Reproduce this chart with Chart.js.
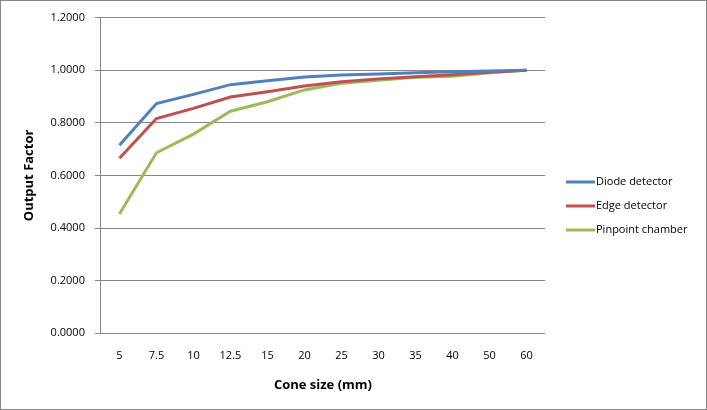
<!DOCTYPE html>
<html>
<head>
<meta charset="utf-8">
<script src="https://cdn.jsdelivr.net/npm/chart.js@4/dist/chart.umd.min.js"></script>
<style>
    html, body { margin: 0; padding: 0; background: #fff; }
    #wrap { width: 707px; height: 410px; box-sizing: border-box; border: 1px solid #868686; position: relative; }
</style>
</head>
<body>
<div id="wrap"><canvas id="outputChart"></canvas></div>
<script>
// Chart data
const coneSizes = ['5', '7.5', '10', '12.5', '15', '20', '25', '30', '35', '40', '50', '60'];
const diodeDetector = [0.715, 0.873, 0.908, 0.945, 0.960, 0.974, 0.982, 0.986, 0.990, 0.994, 0.997, 1.000];
const edgeDetector = [0.665, 0.816, 0.855, 0.898, 0.918, 0.940, 0.956, 0.967, 0.975, 0.983, 0.992, 1.000];
const pinpointChamber = [0.453, 0.686, 0.757, 0.844, 0.880, 0.925, 0.950, 0.962, 0.973, 0.977, 0.990, 1.000];

const gridGray = '#868686';
const fontFamily = "'Open Sans', 'Liberation Sans', sans-serif";

// Excel-style legend on the right, drawn after the chart
const sideLegend = {
    id: 'sideLegend',
    afterDraw(chart) {
        const ctx = chart.ctx;
        const x = chart.chartArea.right + 21;
        const rowGap = 24;
        const y0 = 181;
        ctx.save();
        ctx.font = '11px ' + fontFamily;
        ctx.textBaseline = 'middle';
        ctx.fillStyle = '#000';
        chart.data.datasets.forEach((ds, i) => {
            const y = y0 + i * rowGap;
            ctx.strokeStyle = ds.borderColor;
            ctx.lineWidth = 3;
            ctx.beginPath();
            ctx.moveTo(x, y);
            ctx.lineTo(x + 29, y);
            ctx.stroke();
            ctx.fillText(ds.label, x + 30, y);
        });
        ctx.restore();
    }
};

new Chart(document.getElementById('outputChart'), {
    type: 'line',
    data: {
        labels: coneSizes,
        datasets: [
            {
                label: 'Diode detector',
                data: diodeDetector,
                borderColor: '#4F81BD',
                backgroundColor: '#4F81BD'
            },
            {
                label: 'Edge detector',
                data: edgeDetector,
                borderColor: '#C0504D',
                backgroundColor: '#C0504D'
            },
            {
                label: 'Pinpoint chamber',
                data: pinpointChamber,
                borderColor: '#9BBB59',
                backgroundColor: '#9BBB59'
            }
        ]
    },
    options: {
        responsive: true,
        maintainAspectRatio: false,
        animation: false,
        layout: {
            padding: { top: 10, right: 161, bottom: 12, left: 16 }
        },
        elements: {
            line: { borderWidth: 3, tension: 0 },
            point: { radius: 0 }
        },
        plugins: {
            legend: { display: false },
            tooltip: { enabled: false }
        },
        scales: {
            x: {
                offset: true,
                grid: { display: false },
                border: { display: false },
                ticks: {
                    color: '#000',
                    padding: 8,
                    maxRotation: 0,
                    font: { family: fontFamily, size: 11 }
                },
                title: {
                    display: true,
                    text: 'Cone size (mm)',
                    color: '#000',
                    padding: { top: 7 },
                    font: { family: fontFamily, size: 13, weight: 'bold' }
                }
            },
            y: {
                min: 0,
                max: 1.2,
                ticks: {
                    stepSize: 0.2,
                    color: '#000',
                    padding: 10,
                    font: { family: fontFamily, size: 11 },
                    callback: function (value) {
                        return value.toFixed(4);
                    }
                },
                grid: {
                    color: gridGray,
                    tickLength: 6,
                    tickColor: gridGray
                },
                border: { color: gridGray },
                title: {
                    display: true,
                    text: 'Output Factor',
                    color: '#000',
                    padding: { bottom: 4 },
                    font: { family: fontFamily, size: 13, weight: 'bold' }
                }
            }
        }
    },
    plugins: [sideLegend]
});
</script>
</body>
</html>
